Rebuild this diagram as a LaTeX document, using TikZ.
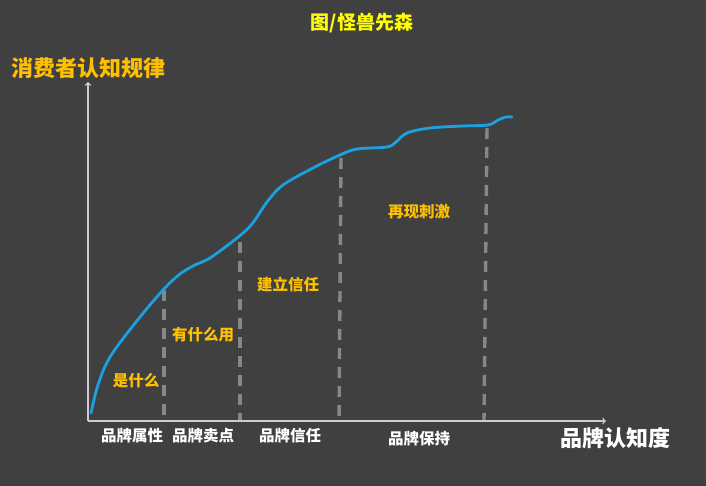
\documentclass[tikz,border=0pt]{standalone}
\usepackage{fontspec}
\setmainfont{Noto Sans CJK SC}
\usepackage{tikz}
\usetikzlibrary{arrows}
\usetikzlibrary{calc}
\usetikzlibrary{positioning}
\definecolor{bgdark}{RGB}{64,64,64}
\definecolor{curveblue}{RGB}{27,161,226}
\definecolor{stagegold}{RGB}{255,192,0}
\definecolor{titleyellow}{RGB}{255,255,0}
\definecolor{axisgray}{RGB}{205,205,205}
\definecolor{dashgray}{RGB}{135,135,135}

\begin{document}
\begin{tikzpicture}[x=1pt,y=-1pt,
		axis/.style={draw=axisgray,line width=1.4pt,->},
		stageline/.style={draw=dashgray,line width=3.4pt,dash pattern=on 11pt off 8pt},
		stagetext/.style={text=stagegold,font=\fontsize{15.5}{15.5}\selectfont\bfseries,inner sep=0pt},
		brandtext/.style={text=white,font=\fontsize{15.5}{15.5}\selectfont\bfseries,inner sep=0pt},
		bigtext/.style={font=\fontsize{22}{22}\selectfont\bfseries,inner sep=0pt}]
		\fill[bgdark] (0,0) rectangle (706,486);
		\useasboundingbox (0,0) rectangle (706,486);
		\node[text=titleyellow,font=\fontsize{19}{19}\selectfont\bfseries,inner sep=0pt] (title) at (362,23) {图/怪兽先森};
		\node[bigtext,text=stagegold] (ylabel) at (88,68) {消费者认知规律};
		\node[bigtext,text=white] (xlabel) at (615,438) {品牌认知度};
		\coordinate (origin) at (88,421);
		\coordinate (ytop) at (88,82);
		\coordinate (xend) at (606,421);
		\draw[stageline] (164,290) -- (164,421);
		\draw[stageline] (240,242) -- (240,421);
		\draw[stageline] (341,158) -- (339,421);
		\draw[stageline] (487,128) -- (484,421);
		\draw[axis] (origin) -- (ytop);
		\draw[axis] (origin) -- (xend);
		\draw[curveblue,line width=2.8pt,line cap=round] plot[smooth,tension=0.55] coordinates {(91,413) (98,385) (110,357) (136,322) (163,290) (180,274) (195,265) (210,258) (237,238) (252,224) (267,202) (283,185) (313,168) (340,155) (357,149) (387,147) (396,142) (407,133) (430,128) (463,126) (488,125) (498,120) (506,117) (512,117)};
		\node[stagetext] (what) at (136,381) {是什么};
		\node[stagetext] (use) at (203,335) {有什么用};
		\node[stagetext] (trust) at (288,285) {建立信任};
		\node[stagetext] (again) at (419,212) {再现刺激};
		\node[brandtext] (attr) at (132,436) {品牌属性};
		\node[brandtext] (sell) at (203,436) {品牌卖点};
		\node[brandtext] (belief) at (290,436) {品牌信任};
		\node[brandtext] (keep) at (419,439) {品牌保持};
	\end{tikzpicture}
\end{document}
